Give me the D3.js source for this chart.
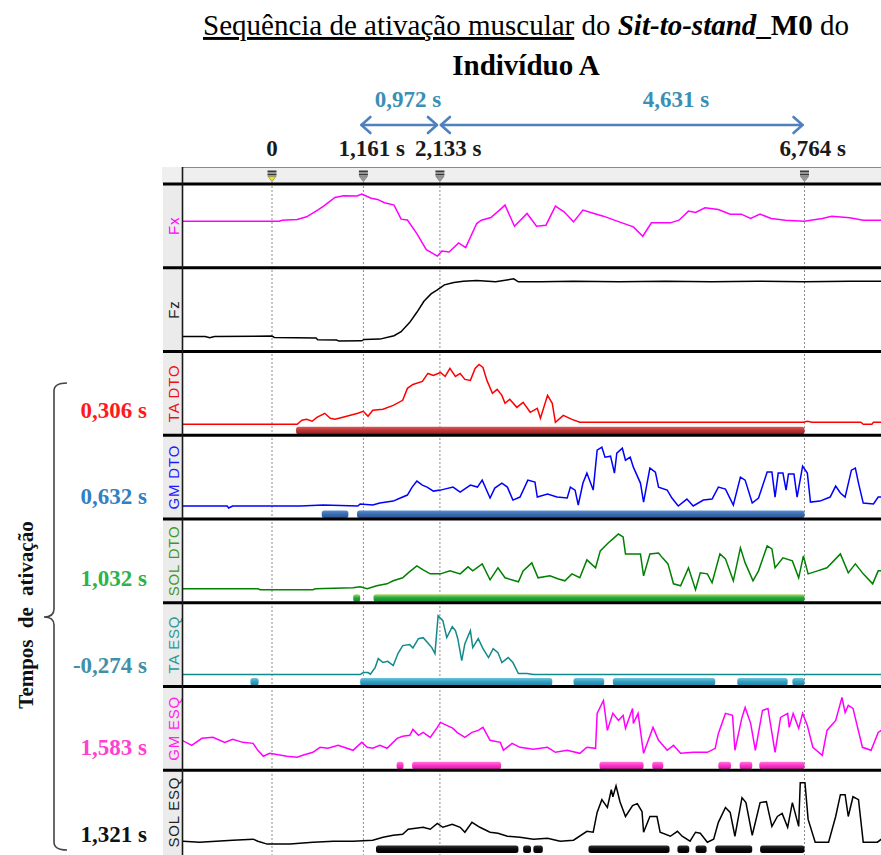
<!DOCTYPE html>
<html>
<head>
<meta charset="utf-8">
<script src="https://cdn.jsdelivr.net/npm/d3@7"></script>
<style>
  html, body { margin: 0; padding: 0; background: #fff; }
  svg { display: block; }
</style>
</head>
<body>
<svg id="chart" width="881" height="855"></svg>
<script>
// ---- Event markers (s) -------------------------------------------------
const markerTimes = [0, 1.161, 2.133, 6.764];
const markerLabels = ["0", "1,161 s", "2,133 s", "6,764 s"];
const intervalLabels = ["0,972 s", "4,631 s"];

// ---- Channels ----------------------------------------------------------
const channelNames = ["Fx", "Fz", "TA DTO", "GM DTO", "SOL DTO", "TA ESQ", "GM ESQ", "SOL ESQ"];
const onsetLabels = ["0,306 s", "0,632 s", "1,032 s", "-0,274 s", "1,583 s", "1,321 s"];

// Signals: [time (s), amplitude (% of channel full scale)]
const fxSignal = [[-1.14,55.6],[0,55.6],[0.09,55.6],[0.13,56.8],[0.32,57.6],[0.44,60.8],[0.58,68.8],[0.66,74],[0.80,84],[0.91,86],[1.08,85.6],[1.14,88],[1.26,83],[1.34,81.6],[1.43,77.6],[1.55,74.8],[1.64,58],[1.72,57],[1.84,40.8],[1.96,21.6],[2.10,14],[2.16,20],[2.25,18.8],[2.37,29.6],[2.46,24],[2.60,52.8],[2.66,56.8],[2.78,60],[2.89,68.8],[2.96,74.8],[3.08,49.6],[3.24,64.8],[3.36,49.6],[3.48,50.8],[3.60,73.6],[3.71,66.8],[3.83,54.8],[3.95,68.8],[4.09,64.8],[4.21,61.6],[4.41,54.8],[4.59,48.8],[4.71,37.6],[4.82,53.6],[5.06,53.6],[5.17,56.8],[5.29,67.6],[5.38,66],[5.50,71.6],[5.67,69.6],[5.82,64],[5.96,64],[6.08,58.8],[6.20,64],[6.34,58.8],[6.52,56.8],[6.76,55.6],[6.99,58.8],[7.11,61.6],[7.34,59.6],[7.51,56.8],[7.74,56.8]];

const fzSignal = [[-1.14,18],[-0.85,18],[-0.79,16.4],[-0.73,18],[0,18.4],[0.03,16.8],[0.56,16],[0.58,14],[0.82,13.6],[0.85,12.4],[1.14,12.8],[1.17,14.4],[1.37,14.8],[1.55,18.8],[1.64,23.6],[1.75,34.8],[1.84,46.8],[1.93,60],[2.02,68.8],[2.10,73.6],[2.19,79.6],[2.31,82.4],[2.43,84],[2.60,84.8],[2.84,83.2],[3.07,86.8],[3.13,83.2],[3.42,83.2],[3.83,84],[4.41,83.2],[5.0,84],[5.58,83.2],[6.17,84],[6.76,83.2],[7.34,84],[7.74,84]];

const taDtoSignal = [[-1.14,13.1],[0.32,13.1],[0.38,17.9],[0.44,19],[0.51,16.7],[0.57,21.4],[0.67,26.2],[0.74,20.2],[0.80,19],[0.90,21.4],[1.09,26.2],[1.16,28.6],[1.22,22.6],[1.28,29.8],[1.41,31],[1.54,35.7],[1.66,41.7],[1.72,56],[1.79,60.7],[1.91,64.3],[1.98,73.8],[2.05,71.4],[2.14,75],[2.20,70.2],[2.26,79.8],[2.33,70.2],[2.39,73.8],[2.45,66.7],[2.52,65.5],[2.58,79.8],[2.63,84.5],[2.68,81],[2.73,65.5],[2.80,50],[2.86,54.8],[2.92,47.6],[2.96,38.1],[3.02,42.9],[3.11,33.3],[3.19,39.3],[3.28,27.4],[3.37,32.1],[3.41,20.2],[3.50,47.6],[3.56,38.1],[3.60,15.5],[3.70,23.8],[3.81,19],[3.91,15.5],[4.00,15.5],[5.44,15.5],[6.75,15.5],[6.80,16.7],[6.86,15.5],[7.48,15.5],[7.51,13.1],[7.62,13.1],[7.64,15.5],[7.74,15.5]];

const gmDtoSignal = [[-1.14,15.5],[-0.57,15.5],[-0.55,13.1],[-0.50,15.5],[0.36,15.5],[0.65,16.7],[1.09,15.5],[1.12,17.9],[1.28,16.7],[1.37,19],[1.54,21.4],[1.63,25],[1.72,28.6],[1.78,38.1],[1.84,45.2],[1.91,40.5],[1.97,38.1],[2.05,33.3],[2.14,34.5],[2.30,38.1],[2.39,32.1],[2.52,40.5],[2.61,38.1],[2.67,46.4],[2.77,25],[2.83,36.9],[2.92,42.9],[2.99,38.1],[3.06,22.6],[3.15,26.2],[3.25,46.4],[3.34,44],[3.37,26.2],[3.50,29.8],[3.62,26.2],[3.75,25],[3.79,38.1],[3.85,34.5],[3.89,16.7],[3.95,42.9],[4.00,54.8],[4.08,34.5],[4.13,82.1],[4.19,85.7],[4.23,73.8],[4.30,75],[4.35,54.8],[4.38,78.6],[4.45,84.5],[4.49,70.2],[4.55,73.8],[4.59,61.9],[4.68,42.9],[4.72,20.2],[4.80,60.7],[4.87,56],[4.91,38.1],[5.02,34.5],[5.08,25],[5.16,15.5],[5.27,23.8],[5.35,15.5],[5.48,22.6],[5.59,23.8],[5.67,38.1],[5.76,35.7],[5.86,16.7],[5.95,50],[6.01,46.4],[6.10,19],[6.18,25],[6.29,56],[6.35,56],[6.39,26.2],[6.43,54.8],[6.49,54.8],[6.53,34.5],[6.56,53.6],[6.63,53.6],[6.67,26.2],[6.74,63.1],[6.80,54.8],[6.84,20.2],[6.96,21.4],[7.09,26.2],[7.16,39.3],[7.22,31],[7.28,26.2],[7.36,58.3],[7.41,60.7],[7.45,42.9],[7.51,19],[7.64,17.9],[7.70,26.2],[7.74,26.2]];

const solDtoSignal = [[-1.14,16.7],[-0.18,16.7],[-0.15,15.5],[0.52,15.5],[0.55,16.7],[1.03,17.9],[1.12,19],[1.21,16.7],[1.33,20.2],[1.46,22.6],[1.54,26.2],[1.66,29.8],[1.73,35.7],[1.84,44],[1.92,39.3],[2.01,34.5],[2.14,34.5],[2.26,38.1],[2.39,34.5],[2.49,42.9],[2.55,38.1],[2.67,46.4],[2.77,27.4],[2.87,41.7],[2.96,29.8],[3.13,25],[3.19,38.1],[3.30,47.6],[3.38,29.8],[3.53,32.1],[3.63,28.6],[3.72,26.2],[3.81,34.5],[3.91,29.8],[4.00,51.2],[4.11,41.7],[4.17,61.9],[4.27,71.4],[4.33,76.2],[4.40,82.1],[4.46,78.6],[4.49,58.3],[4.59,58.3],[4.68,58.3],[4.72,32.1],[4.80,58.3],[4.91,59.5],[4.96,53.6],[5.03,46.4],[5.10,22.6],[5.19,20.2],[5.29,41.7],[5.38,15.5],[5.44,35.7],[5.53,34.5],[5.59,23.8],[5.69,58.3],[5.76,52.4],[5.86,26.2],[5.95,65.5],[6.01,47.6],[6.11,26.2],[6.18,38.1],[6.29,67.9],[6.35,64.3],[6.39,41.7],[6.49,53.6],[6.61,50],[6.69,29.8],[6.75,56],[6.81,34.5],[6.93,38.1],[7.05,41.7],[7.22,58.3],[7.32,35.7],[7.41,46.4],[7.51,34.5],[7.63,22.6],[7.70,38.1],[7.74,38.1]];

const taEsqSignal = [[-1.14,14.3],[1.12,14.3],[1.16,16.7],[1.22,16.7],[1.25,14.8],[1.31,22.6],[1.35,33.3],[1.41,28.6],[1.47,30],[1.54,25],[1.60,39.3],[1.66,48.8],[1.75,50],[1.79,46],[1.86,57.1],[1.92,58.3],[1.98,52],[2.03,46.4],[2.07,39.3],[2.11,84.5],[2.17,78.6],[2.22,58.3],[2.29,71.4],[2.33,66.7],[2.36,57.1],[2.41,31],[2.45,51.2],[2.52,66.7],[2.55,46.4],[2.62,57.1],[2.68,45.2],[2.75,34.5],[2.81,45.2],[2.87,40.5],[2.92,28.6],[3.00,34.5],[3.06,28.6],[3.13,15.5],[3.24,15.5],[3.32,14.3],[7.74,14.3]];

const gmEsqSignal = [[-1.14,35.7],[-1.02,29.8],[-0.89,38.1],[-0.75,39.3],[-0.60,33.3],[-0.50,36.9],[-0.37,33.3],[-0.24,32.1],[-0.18,23.8],[-0.11,16.7],[-0.03,20.2],[0.19,16.7],[0.32,15.5],[0.39,17.9],[0.52,21.4],[0.61,27.4],[0.71,26.2],[0.84,29.8],[1.03,23.8],[1.14,33.3],[1.21,27.4],[1.28,26.2],[1.37,29.8],[1.46,26.2],[1.59,38.1],[1.66,40.5],[1.75,41.7],[1.79,48.8],[1.86,41.7],[1.92,45.2],[2.01,39.3],[2.10,51.2],[2.14,57.1],[2.22,53.6],[2.30,50],[2.35,45.2],[2.45,39.3],[2.54,45.2],[2.62,47.6],[2.68,51.2],[2.77,35.7],[2.90,33.3],[2.94,23.8],[3.05,32.1],[3.15,27.4],[3.32,25],[3.50,27.4],[3.60,21.4],[3.75,23.8],[3.91,20.2],[4.00,27.4],[4.11,26.2],[4.13,67.9],[4.21,83.3],[4.26,47.6],[4.33,67.9],[4.40,59.5],[4.46,65.5],[4.49,50],[4.58,73.8],[4.59,56],[4.65,67.9],[4.72,20.2],[4.78,35.7],[4.84,51.2],[4.91,35.7],[5.02,23.8],[5.10,29.8],[5.19,20.2],[5.35,21.4],[5.53,21.4],[5.63,26.2],[5.67,44],[5.76,67.9],[5.85,65.5],[5.88,23.8],[5.97,63.1],[6.01,75],[6.08,56],[6.14,23.8],[6.23,71.4],[6.30,73.8],[6.39,21.4],[6.46,63.1],[6.55,67.9],[6.57,51.2],[6.62,67.9],[6.69,50],[6.74,67.9],[6.80,53.6],[6.87,27.4],[6.99,17.9],[7.05,47.6],[7.16,59.5],[7.24,86.9],[7.28,69],[7.32,77.4],[7.38,73.8],[7.50,27.4],[7.61,23.8],[7.70,45.2],[7.74,47.6]];

const solEsqSignal = [[-1.14,15.3],[-0.92,14.1],[-0.50,16.5],[-0.24,17.7],[-0.18,15.3],[-0.06,11.8],[0.23,11.8],[0.52,14.1],[0.78,15.3],[1.03,15.3],[1.28,16.5],[1.41,20],[1.54,22.4],[1.66,23.6],[1.73,29.5],[1.92,31.9],[2.01,29.5],[2.10,36.6],[2.17,31.9],[2.29,35.4],[2.39,31.9],[2.45,26],[2.54,37.8],[2.64,31.9],[2.77,26],[2.87,24.8],[2.99,21.2],[3.15,20],[3.32,17.7],[3.50,18.9],[3.66,15.3],[3.83,16.5],[4.00,27.1],[4.08,26],[4.13,49.6],[4.19,64.9],[4.26,55.5],[4.31,76.7],[4.33,68.4],[4.37,81.4],[4.42,62.5],[4.49,44.8],[4.58,57.8],[4.64,60.2],[4.70,50.7],[4.72,26],[4.80,44.8],[4.89,44.8],[4.93,26],[5.06,21.2],[5.15,27.1],[5.21,21.2],[5.31,15.3],[5.38,26],[5.44,24.8],[5.53,14.1],[5.61,17.7],[5.67,37.8],[5.76,55.5],[5.82,49.6],[5.88,21.2],[5.97,67.3],[6.02,61.4],[6.10,22.4],[6.20,61.4],[6.28,62.5],[6.35,33],[6.42,44.8],[6.48,48.4],[6.55,31.9],[6.61,61.4],[6.69,33],[6.71,85],[6.77,85],[6.81,41.3],[6.90,14.1],[7.07,14.1],[7.16,44.8],[7.22,70.8],[7.28,70.8],[7.32,44.8],[7.38,68.4],[7.45,64.9],[7.51,14.1],[7.69,14.1],[7.74,17.7]];

// Detected activation periods: [start, end] in s
const taDtoBursts = [[0.306, 6.764]];
const gmDtoBursts = [[0.632, 0.97], [1.08, 6.764]];
const solDtoBursts = [[1.032, 1.12], [1.29, 6.764]];
const taEsqBursts = [[-0.274, -0.17], [1.12, 3.56], [3.83, 4.22], [4.33, 5.63], [5.91, 6.55], [6.61, 6.764]];
const gmEsqBursts = [[1.583, 1.67], [1.78, 2.91], [4.16, 4.72], [4.83, 4.97], [5.67, 5.83], [5.94, 6.10], [6.19, 6.764]];
const solEsqBursts = [[1.321, 3.13], [3.19, 3.29], [3.32, 3.44], [4.02, 5.05], [5.15, 5.30], [5.38, 5.52], [5.63, 6.10], [6.20, 6.764]];

// ---- Layout --------------------------------------------------------------
const W = 881, H = 855;
const STRIP_L = 163, PLOT_L = 182, PLOT_R = 881;
const TOP0 = 184, PH = 83.75;
const SERIF = "'Liberation Serif', 'Times New Roman', serif";
const SANS = "'Liberation Sans', Arial, sans-serif";

const channels = [
  { name: channelNames[0], data: fxSignal,     line: "#ff00ff", label: "#ff00ff" },
  { name: channelNames[1], data: fzSignal,     line: "#000000", label: "#222222" },
  { name: channelNames[2], data: taDtoSignal,  line: "#ff0000", label: "#ee1111", bursts: taDtoBursts,  bar: ["#dc5a5a", "#bd3535", "#8e2424"] },
  { name: channelNames[3], data: gmDtoSignal,  line: "#0000ff", label: "#1a1aff", bursts: gmDtoBursts,  bar: ["#5d8fd0", "#3b6db3", "#2a5595"] },
  { name: channelNames[4], data: solDtoSignal, line: "#008000", label: "#3d9a1e", bursts: solDtoBursts, bar: ["#b5dd6a", "#22ab3f", "#15882e"] },
  { name: channelNames[5], data: taEsqSignal,  line: "#138a8a", label: "#2a9a9a", bursts: taEsqBursts,  bar: ["#6cc3dc", "#35a2c4", "#2482a2"] },
  { name: channelNames[6], data: gmEsqSignal,  line: "#ff00ff", label: "#ff22ee", bursts: gmEsqBursts,  bar: ["#ff7ae0", "#ff35cc", "#d51fa3"] },
  { name: channelNames[7], data: solEsqSignal, line: "#000000", label: "#222222", bursts: solEsqBursts, bar: ["#333333", "#0a0a0a", "#000000"] }
];

const svg = d3.select("#chart");
const defs = svg.append("defs");

const x = d3.scaleLinear().domain([markerTimes[0], markerTimes[3]]).range([272, 804.5]);

defs.append("clipPath").attr("id", "plotClip")
  .append("rect").attr("x", PLOT_L + 1).attr("y", TOP0).attr("width", PLOT_R - PLOT_L).attr("height", H - TOP0);

channels.forEach((c, i) => {
  if (!c.bar) return;
  const g = defs.append("linearGradient").attr("id", "bar" + i)
    .attr("x1", 0).attr("y1", 0).attr("x2", 0).attr("y2", 1);
  g.append("stop").attr("offset", "0%").attr("stop-color", c.bar[0]);
  g.append("stop").attr("offset", "45%").attr("stop-color", c.bar[1]);
  g.append("stop").attr("offset", "100%").attr("stop-color", c.bar[2]);
});

// ---- Frame ---------------------------------------------------------------
svg.append("rect").attr("x", 162).attr("y", 167).attr("width", W - 162).attr("height", TOP0 - 167)
  .attr("fill", "#efefef");
svg.append("line").attr("x1", PLOT_L).attr("x2", W).attr("y1", 167.5).attr("y2", 167.5)
  .attr("stroke", "#8a8a8a").attr("stroke-width", 1);
svg.append("rect").attr("x", STRIP_L).attr("y", TOP0).attr("width", PLOT_L - STRIP_L).attr("height", H - TOP0)
  .attr("fill", "#ebebeb");

// Event marker lines
svg.append("g").selectAll("line").data(markerTimes).join("line")
  .attr("x1", d => x(d)).attr("x2", d => x(d))
  .attr("y1", 178).attr("y2", H)
  .attr("stroke", "#8c8c8c").attr("stroke-width", 1).attr("stroke-dasharray", "2,2");

// ---- Channel traces and activation bars ---------------------------------
const plot = svg.append("g").attr("clip-path", "url(#plotClip)");

channels.forEach((c, i) => {
  const top = TOP0 + i * PH, bottom = top + PH;
  const y = d3.scaleLinear().domain([0, 100]).range([bottom, top]);
  const line = d3.line().x(d => x(d[0])).y(d => y(d[1]));
  plot.append("path").datum(c.data)
    .attr("d", line)
    .attr("fill", "none")
    .attr("stroke", c.line)
    .attr("stroke-width", 1.5)
    .attr("stroke-linejoin", "miter");

  if (c.bursts) {
    plot.append("g").selectAll("rect").data(c.bursts).join("rect")
      .attr("x", d => x(d[0]))
      .attr("width", d => Math.max(3, x(d[1]) - x(d[0])))
      .attr("y", bottom - 8.5).attr("height", 7.5)
      .attr("rx", 2.5)
      .attr("fill", "url(#bar" + i + ")");
  }

  // channel name in the left strip
  svg.append("text")
    .attr("transform", `translate(${(STRIP_L + PLOT_L) / 2 + 0.5},${(top + bottom) / 2}) rotate(-90)`)
    .attr("text-anchor", "middle")
    .attr("dominant-baseline", "central")
    .attr("font-family", SANS)
    .attr("font-size", 15)
    .attr("letter-spacing", 0.8)
    .attr("fill", c.label)
    .text(c.name);
});

// Panel separators
const sepY = d3.range(0, channels.length).map(i => TOP0 + i * PH);
svg.append("g").selectAll("line").data(sepY).join("line")
  .attr("x1", STRIP_L).attr("x2", W)
  .attr("y1", d => d).attr("y2", d => d)
  .attr("stroke", "#000").attr("stroke-width", 3);

// Left border of the plotting area
svg.append("line").attr("x1", PLOT_L + 0.5).attr("x2", PLOT_L + 0.5).attr("y1", 167).attr("y2", H)
  .attr("stroke", "#1a1a1a").attr("stroke-width", 1.6);

// Marker flags in the event band
const flags = svg.append("g").selectAll("g").data(markerTimes).join("g")
  .attr("transform", d => `translate(${x(d)},0)`);
flags.append("rect").attr("x", -4.5).attr("y", 170.5).attr("width", 9).attr("height", 2).attr("fill", "#3a3a3a");
flags.append("rect").attr("x", -4.5).attr("y", 173.5).attr("width", 9).attr("height", 2).attr("fill", "#3a3a3a");
flags.append("path").attr("d", "M-4,176.5 L4,176.5 L0,181.5 Z")
  .attr("fill", (d, i) => i === 0 ? "#f2e600" : "#9a9a9a")
  .attr("stroke", "#555").attr("stroke-width", 0.5);

// ---- Title ---------------------------------------------------------------
const title = svg.append("text")
  .attr("x", 526).attr("y", 35)
  .attr("text-anchor", "middle")
  .attr("font-family", SERIF)
  .attr("font-size", 29)
  .attr("fill", "#000");
title.append("tspan").attr("text-decoration", "underline").text("Sequência de ativação muscular");
title.append("tspan").text(" do ");
title.append("tspan").attr("font-weight", "bold").attr("font-style", "italic").text("Sit-to-stand");
title.append("tspan").attr("font-weight", "bold").text("_M0");
title.append("tspan").text(" do");

svg.append("text")
  .attr("x", 526).attr("y", 75)
  .attr("text-anchor", "middle")
  .attr("font-family", SERIF).attr("font-weight", "bold").attr("font-size", 29)
  .attr("fill", "#000")
  .text("Indivíduo A");

// ---- Event labels and interval arrows -----------------------------------
svg.append("g").selectAll("text").data(markerTimes).join("text")
  .attr("x", (d, i) => i === 0 ? x(d) : x(d) - 25)
  .attr("y", 156)
  .attr("text-anchor", (d, i) => i === 0 ? "middle" : "start")
  .attr("font-family", SERIF).attr("font-weight", "bold").attr("font-size", 23)
  .attr("fill", "#1a1a1a")
  .text((d, i) => markerLabels[i]);

const ARROW_Y = 125, ARROW_C = "#4f81bd";
const spans = [[markerTimes[1], markerTimes[2]], [markerTimes[2], markerTimes[3]]];
const arrows = svg.append("g").attr("stroke", ARROW_C).attr("stroke-width", 2.6)
  .attr("fill", "none").attr("stroke-linecap", "round").attr("stroke-linejoin", "round");
spans.forEach((s, k) => {
  const a = x(s[0]) - 2 + (k === 1 ? 3 : 0);
  const b = x(s[1]) - 2 - (k === 0 ? 1 : 0);
  arrows.append("line").attr("x1", a).attr("x2", b).attr("y1", ARROW_Y).attr("y2", ARROW_Y);
  arrows.append("path").attr("d", `M${a + 9},${ARROW_Y - 8} L${a},${ARROW_Y} L${a + 9},${ARROW_Y + 8}`);
  arrows.append("path").attr("d", `M${b - 9},${ARROW_Y - 8} L${b},${ARROW_Y} L${b - 9},${ARROW_Y + 8}`);
});
svg.append("g").selectAll("text").data(intervalLabels).join("text")
  .attr("x", (d, i) => [408, 676][i])
  .attr("y", 107)
  .attr("text-anchor", "middle")
  .attr("font-family", SERIF).attr("font-weight", "bold").attr("font-size", 23)
  .attr("fill", "#3b8fb5")
  .text(d => d);

// ---- Activation onset column --------------------------------------------
const onsetColors = ["#ff1a1a", "#2f80c4", "#2eb24c", "#3f90a8", "#ff40d0", "#111111"];
const onsetY = [418, 504, 586, 673, 755, 842];
svg.append("g").selectAll("text").data(onsetLabels).join("text")
  .attr("x", 147)
  .attr("y", (d, i) => onsetY[i])
  .attr("text-anchor", "end")
  .attr("font-family", SERIF).attr("font-weight", "bold").attr("font-size", 23)
  .attr("fill", (d, i) => onsetColors[i])
  .text(d => d);

// Curly brace grouping the onset times
svg.append("path")
  .attr("d", "M67,383 Q54,383 54,391 L54,609 Q54,617 44,617 Q54,617 54,625 L54,842 Q54,850 67,850")
  .attr("fill", "none").attr("stroke", "#444").attr("stroke-width", 1.6);

svg.append("text")
  .attr("transform", "translate(33,615) rotate(-90)")
  .attr("text-anchor", "middle")
  .attr("font-family", SERIF).attr("font-weight", "bold").attr("font-size", 21)
  .attr("word-spacing", 6)
  .attr("fill", "#111")
  .text("Tempos de ativação");
</script>
</body>
</html>
